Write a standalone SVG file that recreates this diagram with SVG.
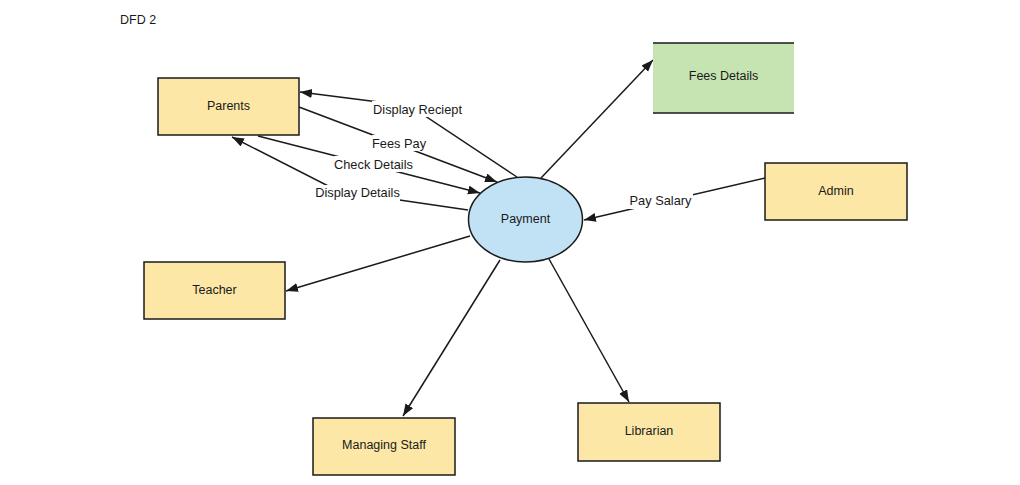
<svg xmlns="http://www.w3.org/2000/svg" width="1020" height="485" viewBox="0 0 1020 485">
<defs>
<style>
.box{fill:#fce7a6;stroke:#1a1a1a;stroke-width:1.5}
.store{fill:#c6e4b1;stroke:none}
.storeline{stroke:#1a1a1a;stroke-width:1.5}
.proc{fill:#c1e2f5;stroke:#1a1a1a;stroke-width:1.5}
.lbl{font-family:"Liberation Sans",Arial,sans-serif;font-size:12.5px;fill:#1a1a1a;text-anchor:middle}
.elbl{font-family:"Liberation Sans",Arial,sans-serif;font-size:12.8px;fill:#1a1a1a;text-anchor:middle}
.edge{fill:none;stroke:#1a1a1a;stroke-width:1.5;marker-end:url(#arr)}
.bg{fill:#ffffff}
</style>
<marker id="arr" markerUnits="userSpaceOnUse" markerWidth="13" markerHeight="10" refX="12" refY="4.5" orient="auto">
<path d="M0,0 L12,4.5 L0,9 z" fill="#1a1a1a"/>
</marker>
</defs>
<rect width="1020" height="485" fill="#ffffff"/>
<text x="120" y="24" class="lbl" style="text-anchor:start">DFD 2</text>

<g id="connectors">
<path class="edge" d="M517,177 L410,106 L300,92"/>
<path class="edge" d="M299,107 L497,182"/>
<path class="edge" d="M258,136 L480,193"/>
<path class="edge" d="M468,210 L338,191 L232,137"/>
<path class="edge" d="M541,178 L653,60"/>
<path class="edge" d="M765,178 L584,220"/>
<path class="edge" d="M470,236 L286,291"/>
<path class="edge" d="M500,260 L403,416"/>
<path class="edge" d="M549,259 L629,402"/>
<rect class="bg" x="372" y="101" width="91" height="16"/>
<text class="elbl" x="417.5" y="113.5">Display Reciept</text>
<rect class="bg" x="372" y="135" width="54" height="16"/>
<text class="elbl" x="399" y="148">Fees Pay</text>
<rect class="bg" x="334" y="156" width="79" height="16"/>
<text class="elbl" x="373.5" y="168.5">Check Details</text>
<rect class="bg" x="315" y="185" width="85" height="16"/>
<text class="elbl" x="357.5" y="197">Display Details</text>
<rect class="bg" x="628" y="193" width="65" height="16"/>
<text class="elbl" x="660.5" y="205">Pay Salary</text>
</g>

<g id="parents">
<rect class="box" x="158" y="78" width="141" height="57"/>
<text class="lbl" x="228.5" y="109.5">Parents</text>
</g>
<g id="fees-details">
<rect class="store" x="653" y="43" width="141" height="70"/>
<line class="storeline" x1="653" y1="43" x2="794" y2="43"/>
<line class="storeline" x1="653" y1="113" x2="794" y2="113"/>
<text class="lbl" x="723.5" y="80">Fees Details</text>
</g>
<g id="admin">
<rect class="box" x="765" y="163" width="142" height="57"/>
<text class="lbl" x="836" y="194.5">Admin</text>
</g>
<g id="payment">
<ellipse class="proc" cx="525.5" cy="219.5" rx="57" ry="42.5"/>
<text class="lbl" x="525.5" y="222.5">Payment</text>
</g>
<g id="teacher">
<rect class="box" x="144" y="262" width="141" height="57"/>
<text class="lbl" x="214.5" y="293.5">Teacher</text>
</g>
<g id="managing-staff">
<rect class="box" x="313" y="418" width="142" height="57"/>
<text class="lbl" x="384" y="449">Managing Staff</text>
</g>
<g id="librarian">
<rect class="box" x="578" y="403" width="142" height="58"/>
<text class="lbl" x="649" y="435">Librarian</text>
</g>
</svg>
